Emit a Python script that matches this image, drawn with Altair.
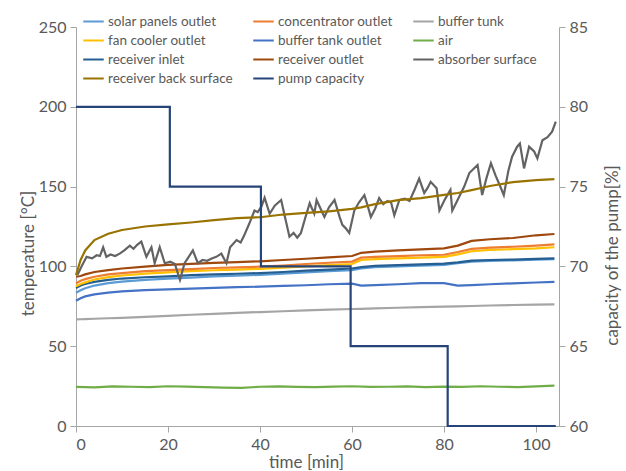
import altair as alt
import pandas as pd

# Sampling times (min) for the smoothly varying temperature channels
t_smooth = [0, 1, 2, 4, 7, 10, 15, 20, 25, 30, 35, 40, 45, 50, 55, 60, 62, 65,
            70, 75, 80, 83, 86, 90, 95, 100, 104]

solar_panels_outlet = [83.5, 85, 86.3, 88, 89.5, 90.5, 91.6, 92.3, 93, 93.7, 94.2, 94.7, 95.5, 96.3,
                       97, 97.6, 98.8, 99.5, 100, 100.5, 101, 102, 103, 103.4, 103.8, 104.2, 104.5]
concentrator_outlet = [89.5, 91, 92, 93.5, 95, 95.8, 97, 97.7, 98.3, 99, 99.4, 99.8, 100.5, 101.5,
                       102.3, 103, 105.5, 106, 106.5, 107, 107.3, 109, 111, 111.8, 112.3, 113, 113.8]
buffer_tunk = [66.8, 66.9, 67, 67.2, 67.5, 67.8, 68.4, 69, 69.7, 70.3, 70.9, 71.4, 71.9, 72.4,
               72.9, 73.3, 73.4, 73.7, 74.1, 74.5, 74.8, 75, 75.2, 75.5, 75.8, 76, 76.2]
fan_cooler_outlet = [87.5, 89, 90, 91.8, 93.3, 94.3, 95.5, 96.3, 97, 97.6, 98, 98.5, 99.2, 100,
                     100.8, 101.5, 104, 104.5, 105, 105.5, 106, 107.5, 109.5, 110.3, 110.8, 111.3, 112]
buffer_tank_outlet = [78.5, 80, 81.2, 82.5, 83.6, 84.3, 85.1, 85.6, 86.1, 86.6, 87, 87.3, 87.8, 88.2,
                      88.8, 89.2, 88, 88.3, 88.8, 89.5, 89.5, 88, 88.3, 88.8, 89.4, 89.9, 90.3]
receiver_inlet = [86.5, 88, 89, 90.3, 91.5, 92.4, 93.2, 93.8, 94.5, 95, 95.4, 95.8, 96.5, 97.3,
                  98, 98.7, 99.5, 100.3, 100.8, 101.3, 101.8, 102.5, 103.6, 104, 104.3, 104.7, 105]
receiver_outlet = [93.5, 94, 95, 96.5, 97.7, 98.7, 99.8, 100.9, 101.6, 102.2, 102.7, 103.2, 104, 104.8,
                   105.7, 106.5, 108.5, 109.2, 110, 110.7, 111.3, 113, 116, 117, 117.8, 119.5, 120.3]
receiver_back_surface = [94.6, 104, 110, 116.5, 120.5, 122.8, 125, 126.3, 127.5, 129, 130.3, 130.8, 132.5, 133.5,
                         134.5, 136, 137, 139, 141.5, 142.8, 144.8, 146, 147.8, 150.4, 152.8, 154, 154.7]

# Ambient air, logged every 4 min
t_air = [0, 4, 8, 12, 16, 20, 24, 28, 32, 36, 40, 44, 48, 52, 56, 60, 64, 68,
         72, 76, 80, 84, 88, 92, 96, 100, 104]
air = [24.5, 24.2, 24.8, 24.6, 24.3, 24.9, 24.7, 24.4, 24.1, 23.9, 24.6, 24.8, 24.5, 24.3,
       24.7, 24.9, 24.5, 24.6, 24.8, 24.4, 24.7, 24.5, 24.9, 24.6, 24.4, 24.8, 25.3]

# Absorber surface (fluctuating with irradiance)
t_absorber = [0.3, 1.2, 2.3, 3.5, 4.5, 5.2, 5.9, 6.6, 7.5, 8.5, 9.5, 10.5, 11.7, 12.5, 13.3, 14.2,
              15.3, 16.4, 17.1, 18.2, 19.3, 20.5, 21.5, 22.6, 23.6, 24.5, 25.4, 26.5, 27.5, 28.5,
              29.5, 30.5, 31.6, 32.7, 33.5, 34.9, 35.8, 36.5, 37.7, 38.8, 39.5, 40.3, 41.0, 42.1,
              43.2, 44.6, 45.5, 46.4, 47.3, 48.1, 48.9, 49.8, 50.8, 51.8, 52.3, 53.2, 54.0, 55.0,
              56.2, 57.3, 57.9, 58.6, 59.4, 60.5, 61.5, 62.7, 63.4, 64.1, 65.0, 65.9, 66.8, 67.7,
              68.5, 69.2, 70.3, 71.5, 72.5, 73.6, 74.6, 75.7, 76.4, 77.1, 78.4, 79.0, 80.2, 81.4,
              81.8, 82.5, 83.3, 84.4, 85.5, 86.4, 87.3, 88.3, 89.2, 90.2, 91.2, 92.1, 93.0, 94.0,
              94.8, 95.9, 96.5, 97.4, 98.5, 99.6, 100.3, 101.4, 102.5, 103.5, 104.3]
absorber_surface = [94.6, 100, 106, 105, 107, 106.5, 112, 106, 107.5, 106.5, 108, 110, 113, 111, 113.5, 115.5,
                    106, 112, 102, 112, 102, 103, 101.5, 91.5, 102, 106, 110, 102, 104, 103.5,
                    105, 106, 108, 102, 112, 116.5, 115, 119, 127, 135, 134, 137.4, 143, 133,
                    138, 141.6, 130, 118.6, 121, 118, 121, 130, 139.6, 133, 141.6, 136, 131, 137,
                    141.6, 131, 126, 124, 121, 135, 140, 144.7, 138, 131, 136, 142.8, 139, 141,
                    140, 132, 141.6, 142.5, 141, 148, 155, 146, 149, 153, 149, 135, 142, 148,
                    135, 139, 143.7, 150, 158.5, 161, 163.5, 144.7, 155, 164.7, 157, 151, 144.7, 160,
                    168.7, 175, 177, 161.4, 175, 172, 167.7, 179, 181, 184.4, 190.7]

# Pump capacity set points (%), each held until the next change
t_pump = [0, 20.4, 40.2, 59.7, 80.8, 104.3]
pump_capacity = [80, 75, 70, 65, 60, 60]

# Legend entries listed column by column (the legend fills its columns top to bottom)
series_names = ["solar panels outlet", "fan cooler outlet", "receiver inlet", "receiver back surface",
                "concentrator outlet", "buffer tank outlet", "receiver outlet", "pump capacity",
                "buffer tunk", "air", "absorber surface"]
series_colors = ["#5B9BD5", "#FFC000", "#255E91", "#997300",
                 "#ED7D31", "#4472C4", "#9E480E", "#264478",
                 "#A5A5A5", "#70AD47", "#636363"]

rows = []
def add(name, ts, vs):
    for t, v in zip(ts, vs):
        rows.append({"series": name, "time": t, "value": v})

add("buffer tunk", t_smooth, buffer_tunk)
add("air", t_air, air)
add("buffer tank outlet", t_smooth, buffer_tank_outlet)
add("solar panels outlet", t_smooth, solar_panels_outlet)
add("receiver inlet", t_smooth, receiver_inlet)
add("fan cooler outlet", t_smooth, fan_cooler_outlet)
add("concentrator outlet", t_smooth, concentrator_outlet)
add("receiver outlet", t_smooth, receiver_outlet)
add("absorber surface", t_absorber, absorber_surface)
add("receiver back surface", t_smooth, receiver_back_surface)
temps = pd.DataFrame(rows)

pump = pd.DataFrame({"series": "pump capacity", "time": t_pump, "value": pump_capacity})

FONT = "Lato"
TXT = "#595959"
AX = "#A6A6A6"

color = alt.Color(
    "series:N",
    scale=alt.Scale(domain=series_names, range=series_colors),
    legend=alt.Legend(
        title=None, orient="none", legendX=6, legendY=-17, columns=3,
        symbolType="stroke", symbolSize=420, symbolStrokeWidth=2,
        labelFont=FONT, labelFontSize=13.5, labelColor=TXT, labelOffset=3,
        rowPadding=1, columnPadding=16, labelLimit=200,
    ),
)

x = alt.X(
    "time:Q",
    scale=alt.Scale(domain=[0, 105], nice=False),
    axis=alt.Axis(values=[0, 20, 40, 60, 80, 100], title="time [min]",
                  titleX=230, titleY=36, titleBaseline="middle"),
)

temp_layer = alt.Chart(temps).mark_line(strokeWidth=2.2).encode(
    x=x,
    y=alt.Y("value:Q", scale=alt.Scale(domain=[0, 250], nice=False),
            axis=alt.Axis(values=[0, 50, 100, 150, 200, 250], title="temperature [°C]",
                          titleX=-48, titleY=226, titleBaseline="middle", titleAngle=270)),
    color=color,
)

pump_layer = alt.Chart(pump).mark_line(strokeWidth=2.2, interpolate="step-after").encode(
    x=x,
    y=alt.Y("value:Q", scale=alt.Scale(domain=[60, 85], nice=False),
            axis=alt.Axis(orient="right", values=[60, 65, 70, 75, 80, 85],
                          title="capacity of the pump[%]",
                          titleX=53, titleY=228, titleBaseline="middle", titleAngle=270)),
    color=color,
)

chart = alt.layer(temp_layer, pump_layer).resolve_scale(y="independent").properties(
    width=483, height=399,
    padding={"left": 76, "top": 27, "right": 67, "bottom": 45},
    autosize=alt.AutoSizeParams(type="none"),
).configure_view(stroke=None).configure_axis(
    grid=False, domainColor=AX, tickColor=AX, tickSize=6,
    labelFont=FONT, labelFontSize=16, labelColor=TXT, labelPadding=4,
    titleFont=FONT, titleFontSize=17, titleColor=TXT, titleFontWeight="normal",
)

chart.save("out.html", embed_options={"renderer": "svg", "actions": False})
